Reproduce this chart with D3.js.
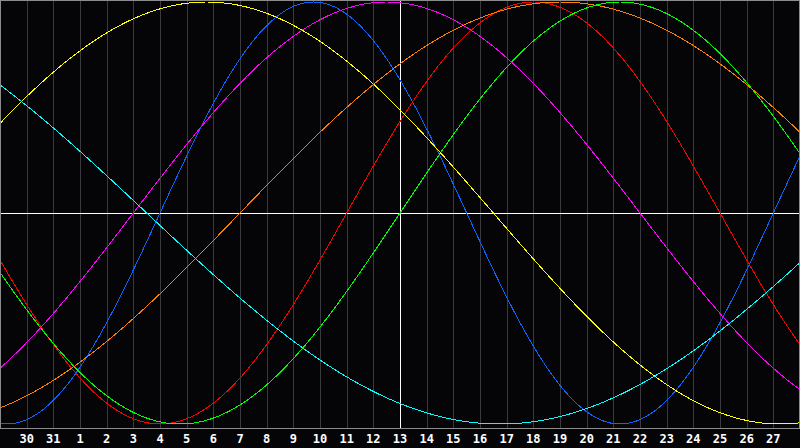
<html lang="en">
<head>
    <script src="https://d3js.org/d3.v7.min.js"></script>
    <meta charset="UTF-8">
    <title>Biorhythm</title>
    <style>
        html, body { margin: 0; padding: 0; background: #050508; overflow: hidden; }
    </style>
</head>
<body>
    <script type="text/javascript">

        // cycles (length in days)
        let cycleNames = ["physical", "emotional", "intellectual", "intuitive", "aesthetic", "awareness", "spiritual"];
        let cycleDays = [23, 28, 33, 38, 43, 48, 53];
        let cycleColors = ["#0a64ff", "#ff0000", "#00ff00", "#ff00ff", "#ffff00", "#ff8000", "#00ffff"];

        // days lived on the marked day (13)
        let daysAlive = 14982;
        let todayIndex = 15;

        // labels under the day lines, index 1..29
        let dayLabels = ["30", "31", "1", "2", "3", "4", "5", "6", "7", "8", "9", "10", "11", "12", "13",
                         "14", "15", "16", "17", "18", "19", "20", "21", "22", "23", "24", "25", "26", "27"];

        let createChart = function () {
            let width = 800;
            let height = 448;
            let plotBottom = 428;

            let svg = d3.select('body')
                .append('svg')
                .attr('width', width)
                .attr('height', height);

            svg.append('rect')
                .attr('width', width)
                .attr('height', height)
                .attr('fill', '#050508');

            let x = d3.scaleLinear().domain([0, 30]).range([0, width]);
            let y = d3.scaleLinear().domain([-1, 1]).range([424, 2]);

            // day lines
            svg.selectAll('.day')
                .data(dayLabels)
                .join('line')
                .attr('class', 'day')
                .attr('x1', (d, i) => Math.round(x(i + 1)) + 0.5)
                .attr('x2', (d, i) => Math.round(x(i + 1)) + 0.5)
                .attr('y1', 0)
                .attr('y2', plotBottom)
                .attr('stroke', (d, i) => i + 1 == todayIndex ? '#ffffff' : '#3a3a3e')
                .attr('shape-rendering', 'crispEdges');

            svg.selectAll('.lbl')
                .data(dayLabels)
                .join('text')
                .attr('class', 'lbl')
                .attr('x', (d, i) => x(i + 1))
                .attr('y', 443)
                .attr('text-anchor', 'middle')
                .attr('font-family', 'DejaVu Sans Mono')
                .attr('font-weight', 'bold')
                .attr('font-size', 12)
                .attr('fill', '#ffffff')
                .text(d => d);

            // zero line
            svg.append('line')
                .attr('x1', 0).attr('x2', width)
                .attr('y1', Math.round(y(0)) + 0.5).attr('y2', Math.round(y(0)) + 0.5)
                .attr('stroke', '#ffffff')
                .attr('shape-rendering', 'crispEdges');

            let steps = d3.range(0, 30.001, 0.05);
            let line = d3.line()
                .x(d => x(d[0]))
                .y(d => y(d[1]));

            svg.selectAll('.cycle')
                .data(cycleDays)
                .join('path')
                .attr('class', 'cycle')
                .attr('fill', 'none')
                .attr('stroke', (d, i) => cycleColors[i])
                .attr('stroke-width', 1)
                .attr('shape-rendering', 'crispEdges')
                .attr('d', function (p) {
                    return line(steps.map(s => [s, Math.sin(2 * Math.PI * (daysAlive + s - todayIndex) / p)]));
                });

            // frame
            svg.append('rect')
                .attr('x', 0.5).attr('y', 0.5)
                .attr('width', width - 1).attr('height', plotBottom)
                .attr('fill', 'none')
                .attr('stroke', '#8c8c8c')
                .attr('shape-rendering', 'crispEdges');
        };

        createChart();
    </script>
</body>
</html>
